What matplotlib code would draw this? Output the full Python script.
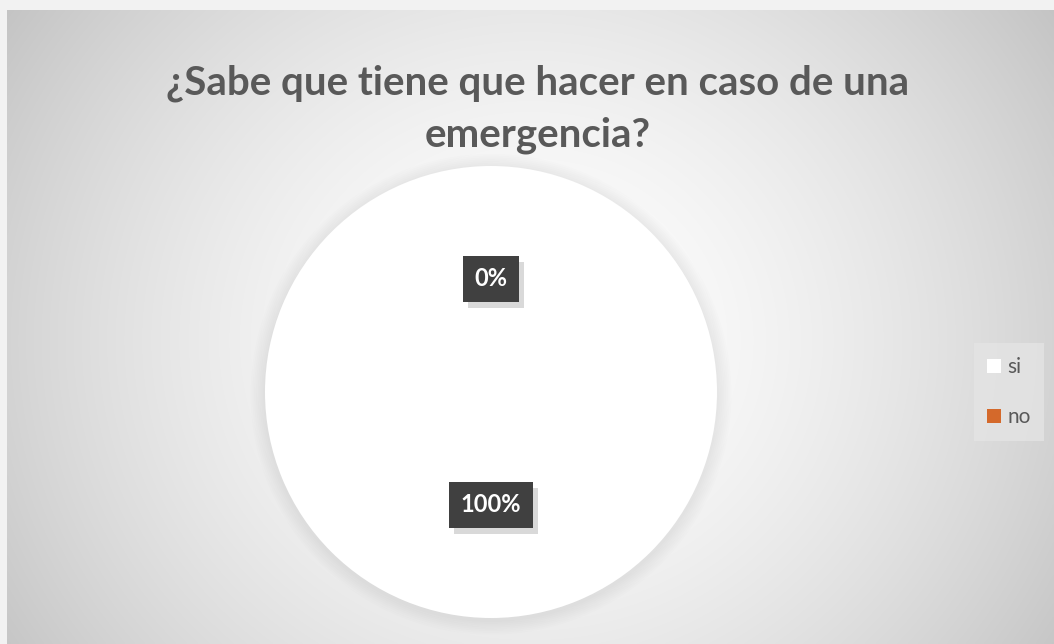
import numpy as np
import matplotlib
matplotlib.use("Agg")
import matplotlib.pyplot as plt
from matplotlib.patches import Circle, Rectangle
from matplotlib.transforms import IdentityTransform

categories = ["si", "no"]
values = [100, 0]
colors = ["#ffffff", "#d4692b"]
title = "¿Sabe que tiene que hacer en caso de una\nemergencia?"

plt.rcParams['font.family'] = ['Lato', 'DejaVu Sans']

W, H = 1054, 644
fig = plt.figure(figsize=(W / 100, H / 100), dpi=100)
fig.patch.set_facecolor('#f2f2f2')

# background radial gradient (chart area)
bg = fig.add_axes([7 / W, 0, 1 - 7 / W, 1 - 10 / H])
bg.set_axis_off()
ny, nx = 317, 524
yy, xx = np.mgrid[0:ny, 0:nx]
cx, cy = nx * 0.50, ny * 0.52
r = np.sqrt(((xx - cx) / (nx * 0.62)) ** 2 + ((yy - cy) / (ny * 0.95)) ** 2)
g = 1.0 - 0.24 * np.clip(r, 0, 1.3) ** 1.6
img = np.dstack([g, g, g])
bg.imshow(img, aspect='auto', extent=[0, 1, 0, 1], interpolation='bilinear')
bg.set_xlim(0, 1)
bg.set_ylim(0, 1)

fig.text(538 / W, 1 - 109 / H, title, ha='center', va='center', fontsize=29,
         fontweight='bold', color='#595959', linespacing=1.5)

# pie axes
cxp, cyp, rad = 491, 392, 226
ax = fig.add_axes([(cxp - rad) / W, (H - cyp - rad) / H, 2 * rad / W, 2 * rad / H])

# soft shadow
for i in range(8):
    ax.add_patch(Circle((0.0, -0.01), 1.0 + 0.008 * (8 - i), color='#000000',
                        alpha=0.006, lw=0, zorder=0, clip_on=False))

wedges, texts, autotexts = ax.pie(values, colors=colors, startangle=90, counterclock=False,
                                  autopct='%1.0f%%', pctdistance=0.5, radius=1.0,
                                  wedgeprops=dict(linewidth=0), labels=None)
ax.set_xlim(-1, 1)
ax.set_ylim(-1, 1)
ax.set_aspect('equal')
ax.set_axis_off()
for w in wedges:
    w.set_zorder(2)
for t in autotexts:
    t.set_color('white')
    t.set_fontsize(17)
    t.set_fontweight('bold')
    t.set_zorder(5)
    t.set_bbox(dict(boxstyle='square,pad=0.5', facecolor='#404040', edgecolor='none'))

# shadows behind label boxes
fig.canvas.draw()
renderer = fig.canvas.get_renderer()
for t in autotexts:
    bb = t.get_bbox_patch().get_window_extent(renderer)
    p = Rectangle((bb.x0 + 5, bb.y0 - 6), bb.width, bb.height,
                  transform=IdentityTransform(), facecolor='#000000', alpha=0.15,
                  edgecolor='none', zorder=3, clip_on=False)
    ax.add_artist(p)

leg = fig.legend(wedges, categories, loc='center', bbox_to_anchor=(1009 / W, 1 - 392 / H),
                 frameon=True, fontsize=15, handlelength=0.65, handleheight=0.65,
                 handletextpad=0.3, labelspacing=1.45, borderpad=0.65, fancybox=False)
leg.get_frame().set_facecolor('#e4e4e4')
leg.get_frame().set_edgecolor('none')
for t in leg.get_texts():
    t.set_color('#595959')

fig.savefig('out.png', dpi=100, facecolor=fig.get_facecolor())
